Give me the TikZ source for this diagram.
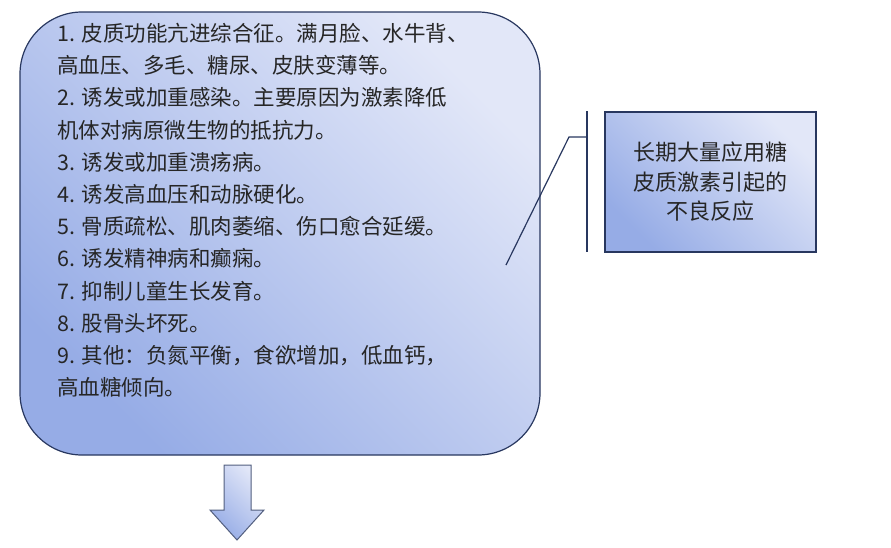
\documentclass[tikz,border=0pt]{standalone}
\usepackage{fontspec}
\setmainfont{Noto Sans CJK SC}
\usetikzlibrary{positioning}
\definecolor{lineblue}{RGB}{40,55,95}
\definecolor{shadelight}{RGB}{226,231,248}
\definecolor{shadedark}{RGB}{150,172,230}
\tikzset{
  shadedbox/.style={draw=lineblue, line width=1.2pt, top color=shadelight, bottom color=shadedark, shading angle=-45},
  bodytext/.style={align=left, anchor=north west, inner sep=0pt, font=\fontsize{21.5}{32.2}\selectfont, text=black!85},
}
\begin{document}
\begin{tikzpicture}[x=1pt,y=-1pt]
\useasboundingbox (0,0) rectangle (891,547);

% main box
\draw[shadedbox, rounded corners=62pt] (20,12) rectangle (540,455);
\node[bodytext] (list) at (57,23) {1. 皮质功能亢进综合征。满月脸、水牛背、\\
高血压、多毛、糖尿、皮肤变薄等。\\
2. 诱发或加重感染。主要原因为激素降低\\
机体对病原微生物的抵抗力。\\
3. 诱发或加重溃疡病。\\
4. 诱发高血压和动脉硬化。\\
5. 骨质疏松、肌肉萎缩、伤口愈合延缓。\\
6. 诱发精神病和癫痫。\\
7. 抑制儿童生长发育。\\
8. 股骨头坏死。\\
9. 其他：负氮平衡，食欲增加，低血钙，\\
高血糖倾向。};

% callout box
\node[shadedbox, minimum width=211pt, minimum height=140pt, align=center,
      font=\fontsize{22}{29.5}\selectfont, text=black!85] (title) at (710.5,182)
  {长期大量应用糖\\皮质激素引起的\\不良反应};

% callout bracket
\coordinate (ctop) at (587,111);
\coordinate (cbot) at (587,252);
\coordinate (celbow) at (569,137);
\coordinate (cfoot) at (506,265);
\draw[lineblue, line width=1.2pt] (ctop) -- (cbot);
\draw[lineblue, line width=1.2pt] (cfoot) -- (celbow) -- (celbow -| ctop);

% down arrow
\draw[draw=lineblue!80, line width=1pt, top color=shadelight, bottom color=shadedark, shading angle=-45]
  (224,465) -- (251,465) -- (251,510) -- (264,510) -- (237,540) -- (210,510) -- (224,510) -- cycle;
\end{tikzpicture}
\end{document}
